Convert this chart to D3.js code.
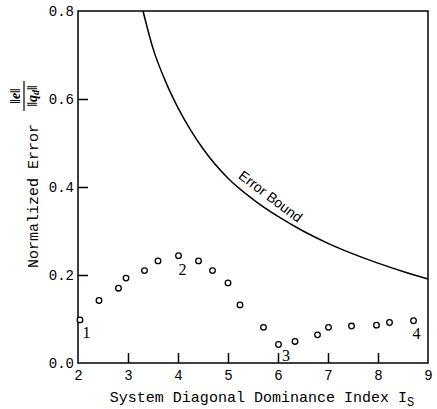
<!DOCTYPE html>
<html>
<head>
  <meta charset="utf-8">
  <script src="https://d3js.org/d3.v7.min.js"></script>
  <style>
    body { margin: 0; background: white; }
    .tick text { font-family: "Liberation Mono", "DejaVu Sans Mono", monospace; font-size: 14px; fill: black; }
    .axisTitle { font-family: "Liberation Mono", "DejaVu Sans Mono", monospace; font-size: 15px; }
    .ptLabel { font-family: "Liberation Serif", serif; font-size: 16px; }
  </style>
</head>
<body>
<svg id="chart" width="437" height="409"></svg>
<script>
  // measured points (circles)
  var dominanceIndex = [2.04, 2.42, 2.81, 2.96, 3.33, 3.60, 4.01, 4.41, 4.69, 5.00,
                        5.24, 5.71, 6.01, 6.34, 6.79, 7.01, 7.47, 7.97, 8.23, 8.71];
  var normalizedError = [0.098, 0.142, 0.170, 0.193, 0.210, 0.232, 0.244, 0.232, 0.210, 0.182,
                         0.132, 0.081, 0.042, 0.049, 0.064, 0.081, 0.084, 0.086, 0.092, 0.096];

  // error bound curve
  var boundIndex = [3.3, 3.5, 3.75, 4.0, 4.25, 4.5, 5.0, 5.5, 6.0, 6.5, 7.0, 7.5, 8.0, 8.5, 9.0];
  var boundError = [0.80, 0.715, 0.64, 0.58, 0.53, 0.487, 0.42, 0.372, 0.333, 0.300, 0.272, 0.248, 0.227, 0.208, 0.191];

  // numbered point labels
  var pointLabels = ["1", "2", "3", "4"];
  var labelIndex = [2.17, 4.09, 6.16, 8.77];
  var labelError = [0.069, 0.213, 0.018, 0.066];

  var xTicks = [2, 3, 4, 5, 6, 7, 8, 9];
  var yTicks = [0.0, 0.2, 0.4, 0.6, 0.8];

  var svg = d3.select("#chart");
  var mLeft = 78, mRight = 428, mTop = 11, mBottom = 363;

  var x = d3.scaleLinear([2, 9], [mLeft, mRight]);
  var y = d3.scaleLinear([0, 0.8], [mBottom, mTop]);

  // x axis, ticks pointing inward
  var gx = svg.append("g")
    .attr("transform", "translate(0," + mBottom + ")")
    .call(d3.axisBottom(x).tickValues(xTicks).tickFormat(d3.format("d"))
      .tickSizeInner(-10).tickSizeOuter(0).tickPadding(7));
  gx.select(".domain").remove();
  gx.selectAll(".tick line").attr("stroke-width", 1.5)
    .filter(d => d == 2 || d == 9).remove();

  var gy = svg.append("g")
    .attr("transform", "translate(" + mLeft + ",0)")
    .call(d3.axisLeft(y).tickValues(yTicks).tickFormat(d3.format(".1f"))
      .tickSizeInner(-10).tickSizeOuter(0).tickPadding(4));
  gy.select(".domain").remove();
  gy.selectAll(".tick line").attr("stroke-width", 1.5)
    .filter(d => d == 0 || d == 0.8).remove();

  // frame
  svg.append("rect")
    .attr("x", mLeft).attr("y", mTop)
    .attr("width", mRight - mLeft).attr("height", mBottom - mTop)
    .attr("fill", "none").attr("stroke", "black").attr("stroke-width", 1.5);

  // error bound
  var line = d3.line()
    .x((d, i) => x(boundIndex[i]))
    .y(d => y(d))
    .curve(d3.curveMonotoneX);
  svg.append("path")
    .datum(boundError)
    .attr("d", line)
    .attr("fill", "none")
    .attr("stroke", "black")
    .attr("stroke-width", 1.5);

  svg.append("text")
    .attr("transform", "translate(" + x(5.84) + "," + y(0.377) + ") rotate(37)")
    .attr("text-anchor", "middle")
    .attr("y", 4)
    .attr("font-family", "Liberation Sans, Arial, sans-serif")
    .attr("font-size", 14)
    .text("Error Bound");

  // circles
  svg.append("g").selectAll("circle")
    .data(normalizedError)
    .join("circle")
    .attr("cx", (d, i) => x(dominanceIndex[i]))
    .attr("cy", d => y(d))
    .attr("r", 2.8)
    .attr("fill", "white")
    .attr("stroke", "black")
    .attr("stroke-width", 1.3);

  svg.append("g").selectAll("text")
    .data(pointLabels)
    .join("text")
    .attr("class", "ptLabel")
    .attr("x", (d, i) => x(labelIndex[i]))
    .attr("y", (d, i) => y(labelError[i]))
    .attr("text-anchor", "middle")
    .attr("dominant-baseline", "central")
    .text(d => d);

  // axis titles
  var xt = svg.append("text")
    .attr("class", "axisTitle")
    .attr("x", 262)
    .attr("y", 402)
    .attr("text-anchor", "middle");
  xt.append("tspan").text("System Diagonal Dominance Index I");
  xt.append("tspan").attr("dy", 4).attr("font-size", 12).text("S");

  svg.append("text")
    .attr("class", "axisTitle")
    .attr("transform", "translate(38,196) rotate(-90)")
    .attr("text-anchor", "middle")
    .text("Normalized Error");

  // ||e|| / ||q_d|| fraction, rotated
  var frac = svg.append("g")
    .attr("transform", "translate(24,96) rotate(-90)")
    .attr("font-family", "Liberation Serif, serif")
    .attr("font-weight", "bold")
    .attr("font-size", 14);
  frac.append("text")
    .attr("text-anchor", "middle")
    .attr("y", -4)
    .html("‖<tspan font-style='italic'>e</tspan>‖");
  frac.append("line")
    .attr("x1", -15).attr("x2", 15)
    .attr("stroke", "black").attr("stroke-width", 1.2);
  frac.append("text")
    .attr("text-anchor", "middle")
    .attr("y", 13)
    .html("‖<tspan font-style='italic'>q</tspan><tspan font-size='10' dy='2' font-style='italic'>d</tspan><tspan dy='-2'>‖</tspan>");
</script>
</body>
</html>
